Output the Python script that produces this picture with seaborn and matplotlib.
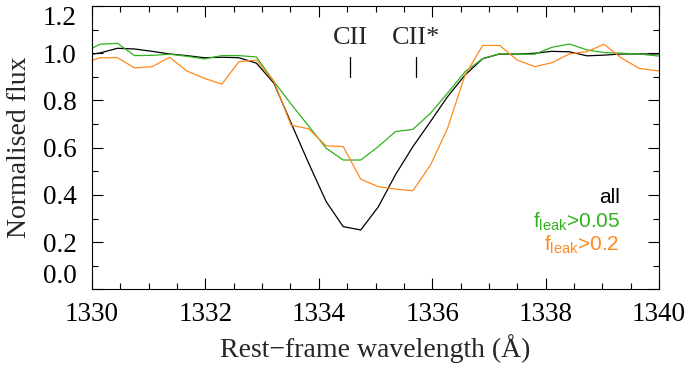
import numpy as np
import pandas as pd
import matplotlib
matplotlib.use("Agg")
import matplotlib.pyplot as plt
from matplotlib.ticker import MultipleLocator
import seaborn as sns

# ---- data ----
wavelength = [1329.83, 1330.14, 1330.45, 1330.75, 1331.06, 1331.37, 1331.67, 1331.98,
              1332.29, 1332.59, 1332.90, 1333.21, 1333.51, 1333.82, 1334.13, 1334.43,
              1334.74, 1335.05, 1335.35, 1335.66, 1335.97, 1336.27, 1336.58, 1336.89,
              1337.19, 1337.50, 1337.81, 1338.11, 1338.42, 1338.73, 1339.03, 1339.34,
              1339.65, 1339.95, 1340.26]
flux_all = [0.990, 1.001, 1.021, 1.018, 1.008, 0.997, 0.990, 0.981, 0.983, 0.981, 0.958,
            0.873, 0.705, 0.535, 0.372, 0.266, 0.252, 0.350, 0.485, 0.605, 0.711, 0.816,
            0.908, 0.977, 0.997, 0.996, 1.000, 1.008, 1.006, 0.989, 0.992, 0.997, 0.997,
            0.997, 1.000]
flux_f005 = [1.000, 1.038, 1.042, 0.990, 0.991, 0.996, 0.987, 0.976, 0.990, 0.990, 0.984,
             0.880, 0.785, 0.692, 0.598, 0.548, 0.548, 0.605, 0.668, 0.678, 0.746, 0.831,
             0.922, 0.977, 0.998, 0.996, 0.996, 1.025, 1.039, 1.014, 1.003, 1.000, 0.997,
             0.989, 0.985]
flux_f02 = [0.955, 0.981, 0.981, 0.938, 0.943, 0.983, 0.925, 0.894, 0.869, 0.964, 0.971,
            0.880, 0.696, 0.680, 0.608, 0.605, 0.467, 0.435, 0.425, 0.418, 0.527, 0.682,
            0.908, 1.033, 1.033, 0.971, 0.943, 0.960, 0.997, 1.007, 1.038, 0.979, 0.936,
            0.926, 0.925]

series_names = ["all", "f005", "f02"]
series_labels = ["all", r"$\mathregular{f_{leak}}$>0.05", r"$\mathregular{f_{leak}}$>0.2"]
series_colors = ["#000000", "#2fb31c", "#ff8a1c"]

line_names = ["CII", "CII*"]
line_waves = [1334.55, 1335.72]

x_ticks = [1330, 1332, 1334, 1336, 1338, 1340]
y_ticks = [0.0, 0.2, 0.4, 0.6, 0.8, 1.0, 1.2]

# ---- tidy frame ----
frames = []
for name, vals in zip(series_names, [flux_all, flux_f005, flux_f02]):
    frames.append(pd.DataFrame({"wavelength": wavelength, "flux": vals, "sample": name}))
df = pd.concat(frames, ignore_index=True)

sns.set_style("ticks")
plt.rcParams["font.family"] = ["Liberation Serif", "DejaVu Serif"]
plt.rcParams["mathtext.fontset"] = "custom"
plt.rcParams["mathtext.rm"] = "Liberation Sans"

fig = plt.figure(figsize=(6.89, 3.67), dpi=100)
ax = fig.add_axes([0.1335, 0.2112, 0.823, 0.7725])

sns.lineplot(data=df, x="wavelength", y="flux", hue="sample", hue_order=series_names,
             palette=dict(zip(series_names, series_colors)), linewidth=0.9,
             legend=False, ax=ax, sort=False, estimator=None)

ax.set_xlim(1330, 1340)
ax.set_ylim(0.0, 1.2)
ax.set_xticks(x_ticks)
ax.set_xticklabels([str(t) for t in x_ticks])
ax.set_yticks(y_ticks)
ylabels = ax.set_yticklabels([f"{t:.1f}" for t in y_ticks])
ylabels[0].set_verticalalignment("bottom")
ylabels[-1].set_verticalalignment("top")
ax.xaxis.set_minor_locator(MultipleLocator(0.5))
ax.yaxis.set_minor_locator(MultipleLocator(0.1))
ax.tick_params(which="both", direction="in", top=True, right=True, labelsize=19.5,
               width=0.8, colors="black")
ax.tick_params(which="major", length=8)
ax.tick_params(axis="x", which="major", pad=9)
ax.tick_params(axis="y", which="major", pad=11)
ax.tick_params(which="minor", length=4)
for sp in ax.spines.values():
    sp.set_linewidth(0.8)
    sp.set_color("black")

ax.set_xlabel("Rest\u2212frame wavelength (\u00c5)", fontsize=20)
ax.set_ylabel("Normalised flux", fontsize=20)
ax.xaxis.set_label_coords(0.5, -0.158)
ax.yaxis.set_label_coords(-0.106, 0.5)

for nm, w in zip(line_names, line_waves):
    ax.plot([w, w], [0.90, 0.984], color="black", lw=0.9)
    ax.text(w, 1.065, nm, ha="center", va="center", fontsize=19)

ytxt = [0.326, 0.238, 0.157]
for lab, col, yy in zip(series_labels, series_colors, ytxt):
    ax.text(0.931, yy, lab, transform=ax.transAxes, ha="right", va="center",
            color=col, fontsize=15, family=["Liberation Sans", "DejaVu Sans"])

fig.savefig("out.png", dpi=100)
